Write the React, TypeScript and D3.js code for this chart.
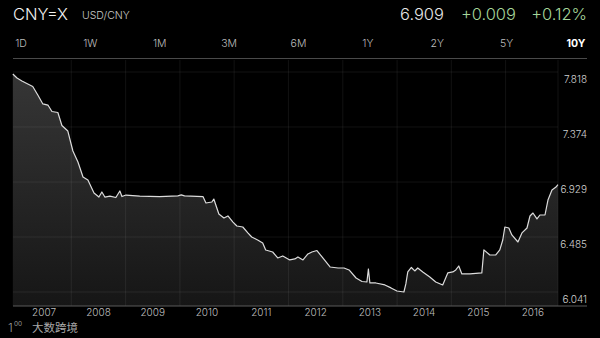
import React from "react";
import * as d3 from "d3";

const dates = [
  "2006-12-04","2007-01-01","2007-02-03","2007-04-17","2007-05-21","2007-06-24","2007-07-28","2007-08-24","2007-10-03","2007-10-30","2007-12-09",
  "2008-01-12","2008-02-15","2008-03-20","2008-04-22","2008-06-02","2008-07-05","2008-07-25","2008-08-14","2008-09-17","2008-10-27","2008-11-23","2008-12-07",
  "2009-01-03","2009-04-06","2009-08-18","2009-12-18","2010-01-10","2010-02-01","2010-06-05","2010-06-25","2010-08-04","2010-08-17","2010-09-20","2010-10-24","2010-11-20","2010-12-24",
  "2011-01-19","2011-02-28","2011-04-03","2011-04-29","2011-06-08","2011-07-12","2011-08-01","2011-09-17","2011-10-21","2011-11-24",
  "2012-01-10","2012-02-13","2012-03-05","2012-04-08","2012-05-11","2012-06-07","2012-07-11","2012-08-14","2012-10-07","2012-11-30",
  "2013-01-09","2013-02-12","2013-03-31","2013-05-10","2013-06-12","2013-06-22","2013-07-02","2013-08-11","2013-10-11","2013-11-21","2013-12-31",
  "2014-02-16","2014-03-01","2014-03-14","2014-04-07","2014-04-30","2014-05-20","2014-06-23","2014-08-09","2014-09-18","2014-11-04","2014-12-08",
  "2015-01-11","2015-01-31","2015-02-20","2015-03-13","2015-05-06","2015-07-25","2015-08-08","2015-09-17","2015-10-27","2015-11-23","2015-12-13","2015-12-27",
  "2016-01-23","2016-02-12","2016-03-24","2016-04-20","2016-05-24","2016-06-13","2016-07-03","2016-07-30","2016-08-19","2016-09-22","2016-10-12","2016-11-08","2016-12-05","2016-12-18",
];

const rates = [
  7.802,7.770,7.745,7.701,7.632,7.560,7.551,7.499,7.491,7.386,7.341,
  7.180,7.091,6.970,6.946,6.841,6.808,6.849,6.808,6.816,6.804,6.857,6.812,
  6.824,6.816,6.812,6.818,6.826,6.818,6.812,6.760,6.768,6.792,6.671,6.639,6.655,6.606,
  6.574,6.566,6.518,6.485,6.461,6.437,6.380,6.364,6.316,6.332,
  6.300,6.308,6.324,6.300,6.348,6.364,6.376,6.324,6.243,6.235,
  6.235,6.219,6.154,6.126,6.122,6.227,6.114,6.114,6.098,6.074,6.049,
  6.041,6.106,6.203,6.239,6.211,6.235,6.203,6.162,6.122,6.098,6.195,
  6.203,6.219,6.251,6.187,6.187,6.195,6.381,6.340,6.340,6.381,6.461,6.566,
  6.558,6.502,6.445,6.518,6.558,6.655,6.679,6.631,6.663,6.663,6.784,6.865,6.889,6.909,
];

const yTicks = [7.818, 7.374, 6.929, 6.485, 6.041];
const years = [2007, 2008, 2009, 2010, 2011, 2012, 2013, 2014, 2015, 2016];
const tabs = ["1D", "1W", "1M", "3M", "6M", "1Y", "2Y", "5Y", "10Y"];
const symbol = "CNY=X";
const pairName = "USD/CNY";
const lastPrice = "6.909";
const change = "+0.009";
const changePct = "+0.12%";

const FONT = "Inter, Roboto, 'Helvetica Neue', Arial, sans-serif";

export default function App() {
  const W = 600, H = 338;
  const left = 13, right = 558, top = 72, bottom = 292, baseY = 306;

  const parse = d3.timeParse("%Y-%m-%d");
  const data = dates.map((d, i) => ({ date: parse(d) as Date, value: rates[i] }));

  const x = d3.scaleTime()
    .domain([new Date(2007, 0, 1), new Date(2017, 0, 1)])
    .range([17, 560]);
  const y = d3.scaleLinear().domain([6.041, 7.818]).range([bottom, top]);

  const line = d3.line<{ date: Date; value: number }>()
    .x(d => x(d.date))
    .y(d => y(d.value));
  const area = d3.area<{ date: Date; value: number }>()
    .x(d => x(d.date))
    .y0(baseY)
    .y1(d => y(d.value));

  const tabX = d3.scalePoint<string>().domain(tabs).range([21, 576]);

  return (
    <div style={{ position: "fixed", left: 0, top: 0, width: W, height: H, background: "#000" }}>
      <svg width={W} height={H} style={{ display: "block" }} fontFamily={FONT}>
        <defs>
          <linearGradient id="areaGrad" gradientUnits="userSpaceOnUse" x1="0" y1={top} x2="0" y2={baseY}>
            <stop offset="0%" stopColor="#363636" />
            <stop offset="100%" stopColor="#161616" />
          </linearGradient>
        </defs>
        <rect width={W} height={H} fill="#000" />

        {/* header */}
        <text x={13} y={20} fontSize={16.5} fill="#f2f2f2" fontWeight={300}>{symbol}</text>
        <text x={82} y={19} fontSize={10.5} fill="#c8c8c8" fontWeight={300}>{pairName}</text>
        <text x={444} y={20} fontSize={16.5} fill="#e6e6e6" textAnchor="end" fontWeight={300}>{lastPrice}</text>
        <text x={516} y={20} fontSize={16.5} fill="#a6d69a" textAnchor="end" fontWeight={300}>{change}</text>
        <text x={587} y={20} fontSize={16.5} fill="#a6d69a" textAnchor="end" fontWeight={300}>{changePct}</text>

        {/* tabs */}
        {tabs.map(t => (
          <text key={t} x={tabX(t)} y={47} fontSize={10.5} textAnchor="middle"
            fill={t === "10Y" ? "#ffffff" : "#bdbdbd"} fontWeight={t === "10Y" ? 700 : 300}>{t}</text>
        ))}
        <line x1={13} x2={587} y1={58.5} y2={58.5} stroke="#4a4a4a" strokeWidth={1} />

        {/* area */}
        <path d={area(data) || ""} fill="url(#areaGrad)" />

        {/* grid */}
        {yTicks.map(v => (
          <line key={"h" + v} x1={left} x2={right} y1={y(v)} y2={y(v)} stroke="#ffffff" strokeOpacity={0.07} strokeWidth={1} />
        ))}
        {years.slice(1).map(yr => (
          <line key={"v" + yr} x1={x(new Date(yr, 0, 1))} x2={x(new Date(yr, 0, 1))} y1={60} y2={baseY}
            stroke="#ffffff" strokeOpacity={0.07} strokeWidth={1} />
        ))}
        <line x1={right} x2={right} y1={60} y2={baseY} stroke="#ffffff" strokeOpacity={0.07} />

        {/* price line */}
        <path d={line(data) || ""} fill="none" stroke="#dcdcdc" strokeWidth={1.2} strokeLinejoin="round" />

        {/* x axis */}
        <line x1={13} x2={587} y1={baseY} y2={baseY} stroke="#5a5a5a" strokeWidth={1} />
        {years.map(yr => (
          <text key={"yl" + yr} x={x(new Date(yr, 6, 2))} y={316} fontSize={10} textAnchor="middle" fill="#bdbdbd" fontWeight={300}>{yr}</text>
        ))}

        {/* y labels */}
        {yTicks.map(v => (
          <text key={"yt" + v} x={587} y={y(v) + 11} fontSize={10} textAnchor="end" fill="#cfcfcf" fontWeight={300}>{v.toFixed(3)}</text>
        ))}

        {/* watermark */}
        <text x={8} y={332} fontSize={12} fill="#9a9a9a" fontWeight={300}>1</text>
        <text x={14} y={326} fontSize={6.5} fill="#9a9a9a">00</text>
        <text x={32} y={332} fontSize={11.5} fill="#a8a8a8" fontFamily="'Noto Sans CJK SC', sans-serif">大数跨境</text>
      </svg>
    </div>
  );
}
